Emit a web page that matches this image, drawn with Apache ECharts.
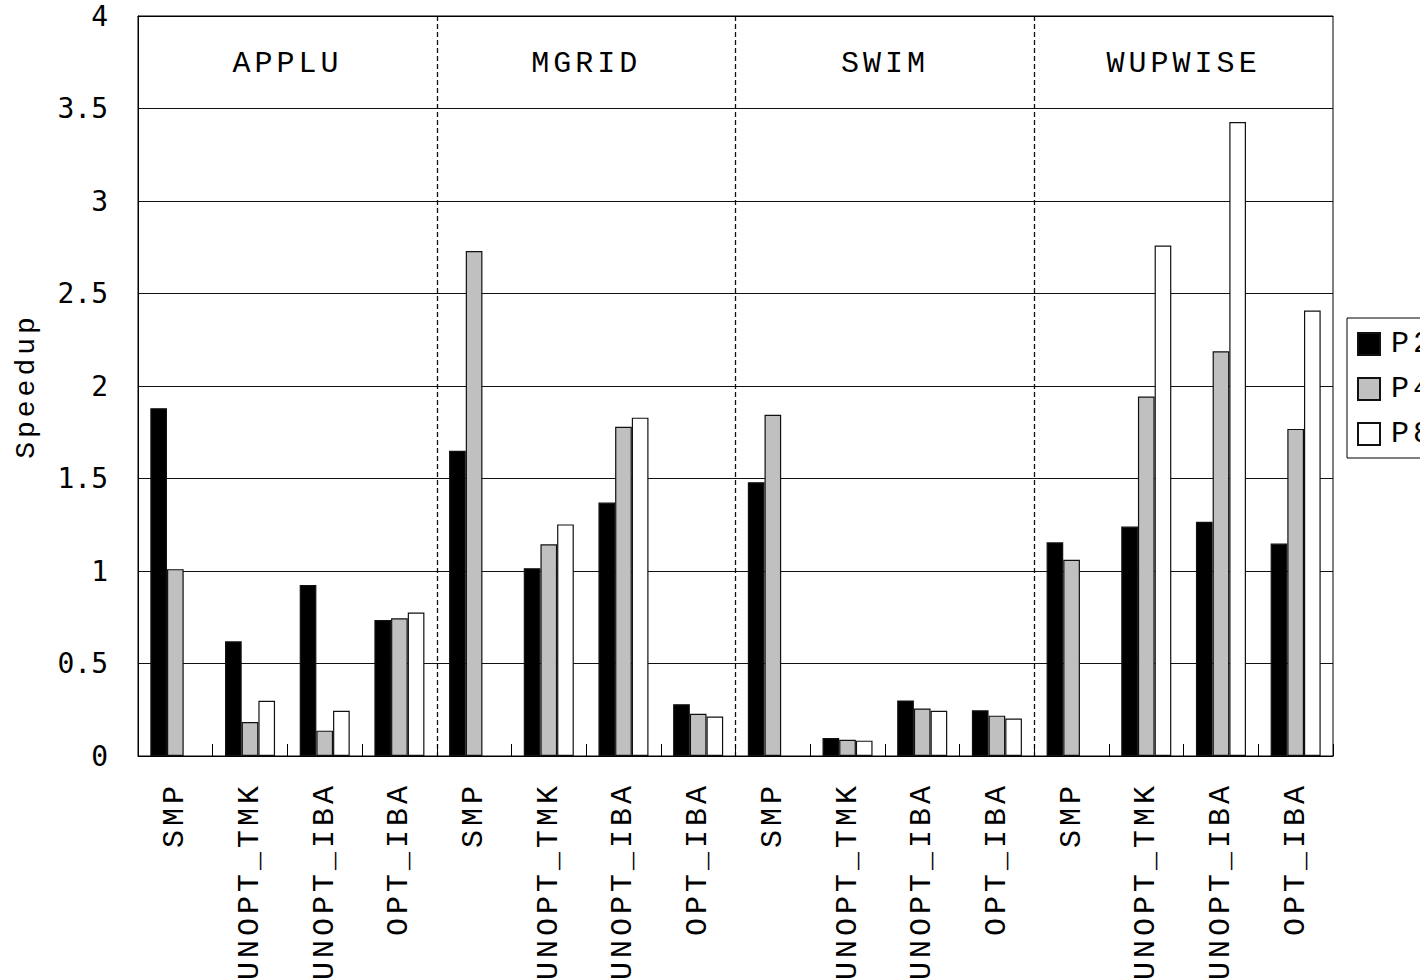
<!DOCTYPE html>
<html>
<head>
<meta charset="utf-8">
<script src="https://cdn.jsdelivr.net/npm/echarts/dist/echarts.min.js"></script>
<style>
  html, body { margin: 0; padding: 0; background: #fff; }
  #chart { width: 1420px; height: 980px; }
  /* typewriter-style labels are drawn with a little extra tracking */
  #chart text[style*="Liberation Mono"] { letter-spacing: 4px; }
</style>
</head>
<body>
<div id="chart"></div>
<script>
// Benchmarks and the parallelisation variants measured for each
const benchmarks = ['APPLU', 'MGRID', 'SWIM', 'WUPWISE'];
const variants = ['SMP', 'UNOPT_TMK', 'UNOPT_IBA', 'OPT_IBA'];

// Speedup per processor count, one value per benchmark/variant pair (null = not run)
const p2 = [1.88, 0.62, 0.925, 0.735, 1.65, 1.015, 1.37, 0.28, 1.48, 0.097, 0.30, 0.247, 1.155, 1.24, 1.266, 1.148];
const p4 = [1.01, 0.184, 0.137, 0.745, 2.73, 1.144, 1.78, 0.228, 1.845, 0.088, 0.257, 0.218, 1.061, 1.943, 2.188, 1.768];
const p8 = [null, 0.299, 0.245, 0.776, null, 1.252, 1.829, 0.213, null, 0.083, 0.245, 0.203, null, 2.759, 3.427, 2.408];

const seriesNames = ['P2', 'P4', 'P8'];
const yTicks = { min: 0, max: 4, step: 0.5 };

const categories = benchmarks.flatMap(() => variants);

const mono = 'Liberation Mono';
const fills = ['#000000', '#c0c0c0', '#ffffff'];

const chart = echarts.init(document.getElementById('chart'), null, { renderer: 'svg' });

chart.setOption({
  animation: false,
  backgroundColor: '#ffffff',
  grid: {
    left: 138, right: 87, top: 16, bottom: 224,
    show: true, borderColor: '#000', borderWidth: 1, backgroundColor: 'transparent',
    containLabel: false, outerBoundsMode: 'none'
  },
  legend: {
    orient: 'vertical',
    left: 1347, top: 318,
    padding: [11, 60, 9, 10],
    borderColor: '#000', borderWidth: 1,
    itemWidth: 22, itemHeight: 22, itemGap: 15,
    icon: 'rect',
    data: seriesNames,
    textStyle: { fontFamily: mono, fontSize: 30, color: '#000', padding: [0, 0, 0, 6] }
  },
  xAxis: [
    {
      type: 'category',
      data: categories,
      position: 'bottom',
      axisLine: { show: true, lineStyle: { color: '#000', width: 1 } },
      axisTick: { show: true, inside: true, length: 12, lineStyle: { color: '#000' } },
      axisLabel: {
        rotate: 90, interval: 0, margin: 26,
        fontFamily: mono, fontSize: 30, color: '#000'
      },
      splitLine: { show: false }
    },
    {
      // separators between benchmark groups
      type: 'value',
      min: 0, max: categories.length, interval: variants.length,
      position: 'top',
      axisLine: { show: true, lineStyle: { color: '#000', width: 1 } },
      axisTick: { show: false },
      axisLabel: { show: false },
      splitLine: {
        show: true, showMinLine: false, showMaxLine: false,
        lineStyle: { color: '#111', width: 1.3, type: [5, 3] }
      }
    },
    {
      // benchmark names along the top of the plot
      type: 'category',
      data: benchmarks,
      position: 'top',
      axisLine: { show: false },
      axisTick: { show: false },
      axisLabel: {
        inside: true, margin: 48, verticalAlign: 'middle',
        fontFamily: mono, fontSize: 30, color: '#000'
      },
      splitLine: { show: false }
    }
  ],
  yAxis: {
    type: 'value',
    min: yTicks.min, max: yTicks.max, interval: yTicks.step,
    name: 'Speedup',
    nameLocation: 'middle',
    nameRotate: 90,
    nameGap: 98,
    nameTextStyle: { fontFamily: mono, fontSize: 28, color: '#000' },
    axisLine: { show: true, lineStyle: { color: '#000', width: 1 } },
    axisTick: { show: false },
    axisLabel: { margin: 30, fontFamily: 'DejaVu Sans Mono', fontSize: 28, color: '#000' },
    splitLine: { show: true, lineStyle: { color: '#111', width: 1 } }
  },
  series: [p2, p4, p8].map((vals, i) => ({
    name: seriesNames[i],
    type: 'bar',
    xAxisIndex: 0,
    data: vals.map(v => (v === null ? '-' : v)),
    barGap: '0%',
    barCategoryGap: '33%',
    itemStyle: { color: fills[i], borderColor: '#111', borderWidth: 1.2 }
  }))
});
</script>
</body>
</html>
